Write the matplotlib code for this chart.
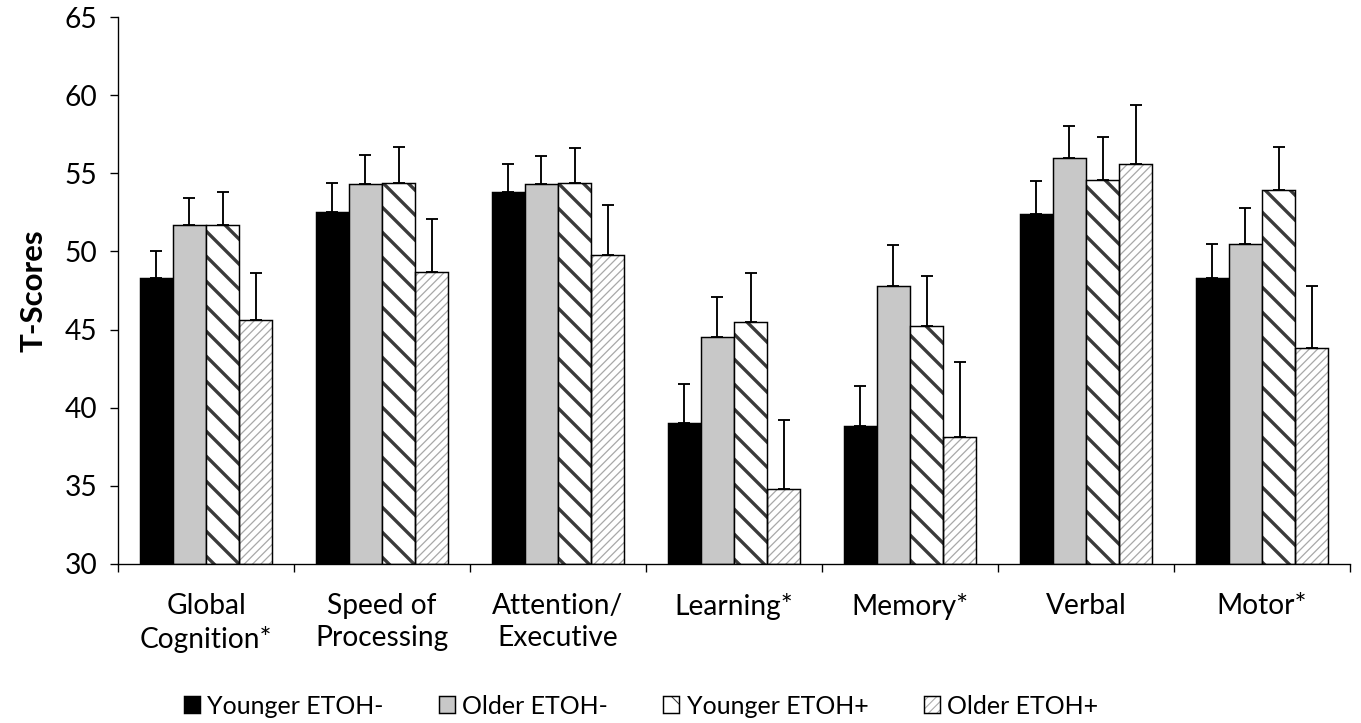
import numpy as np
import matplotlib.pyplot as plt
from matplotlib.patches import Patch

plt.rcParams['font.family'] = ['Lato', 'DejaVu Sans']

categories = ['Global\nCognition*', 'Speed of\nProcessing', 'Attention/\nExecutive',
              'Learning*', 'Memory*', 'Verbal', 'Motor*']
groups = ['Younger ETOH-', 'Older ETOH-', 'Younger ETOH+', 'Older ETOH+']

young_neg = [48.3, 52.5, 53.8, 39.0, 38.8, 52.4, 48.3]
old_neg = [51.7, 54.3, 54.3, 44.5, 47.8, 56.0, 50.5]
young_pos = [51.7, 54.4, 54.4, 45.5, 45.2, 54.6, 53.9]
old_pos = [45.6, 48.7, 49.8, 34.8, 38.1, 55.6, 43.8]

young_neg_err = [1.7, 1.9, 1.8, 2.5, 2.6, 2.1, 2.2]
old_neg_err = [1.7, 1.9, 1.8, 2.6, 2.6, 2.0, 2.3]
young_pos_err = [2.1, 2.3, 2.2, 3.1, 3.2, 2.7, 2.8]
old_pos_err = [3.0, 3.4, 3.2, 4.4, 4.8, 3.8, 4.0]

values = [young_neg, old_neg, young_pos, old_pos]
errors = [young_neg_err, old_neg_err, young_pos_err, old_pos_err]

DPI = 75
fig = plt.figure(figsize=(1361 / DPI, 723 / DPI), dpi=DPI)
ax = fig.add_axes([118 / 1361, 1 - 564 / 723, (1350 - 118) / 1361, (564 - 17) / 723])

x = np.arange(len(categories))
w = 0.188
offsets = [-1.5 * w, -0.5 * w, 0.5 * w, 1.5 * w]

styles = [
    dict(face='black', hatch=None, hcolor=None, hlw=None),
    dict(face='#c8c8c8', hatch=None, hcolor=None, hlw=None),
    dict(face='white', hatch='\\', hcolor='#3a3a3a', hlw=3.2),
    dict(face='white', hatch='///', hcolor='#a8a8a8', hlw=1.2),
]

handles = []
for vals, errs, off, st, name in zip(values, errors, offsets, styles, groups):
    xs = x + off
    heights = np.array(vals) - 30
    if st['hatch']:
        with plt.rc_context({'hatch.linewidth': st['hlw']}):
            hb = ax.bar(xs, heights, w, bottom=30, color=st['face'], edgecolor=st['hcolor'],
                        linewidth=0, hatch=st['hatch'], zorder=2)
            for p in hb:
                if hasattr(p, 'set_hatch_linewidth'):
                    p.set_hatch_linewidth(st['hlw'])
        ax.bar(xs, heights, w, bottom=30, fill=False, edgecolor='black', linewidth=1.4, zorder=3)
        with plt.rc_context({'hatch.linewidth': st['hlw']}):
            h1 = Patch(facecolor='white', edgecolor=st['hcolor'], hatch=st['hatch'], linewidth=0)
            if hasattr(h1, 'set_hatch_linewidth'):
                h1.set_hatch_linewidth(st['hlw'] * 0.7)
        h2 = Patch(fill=False, edgecolor='black', linewidth=1.4)
        handles.append((h1, h2))
    else:
        ax.bar(xs, heights, w, bottom=30, color=st['face'], edgecolor='black',
               linewidth=1.4, zorder=2)
        handles.append(Patch(facecolor=st['face'], edgecolor='black', linewidth=1.4))
    ax.errorbar(xs, vals, yerr=[np.zeros(len(errs)), errs], fmt='none', ecolor='black',
                elinewidth=1.8, capsize=5.5, capthick=1.8, zorder=4)

ax.set_xlim(-0.5, len(categories) - 0.5)
ax.set_ylim(30, 65)
ax.set_yticks(np.arange(30, 66, 5))
ax.set_xticks(np.arange(-0.5, len(categories), 1.0))
ax.set_xticklabels([])
ax.set_xticks(x, minor=True)
ax.set_xticklabels(categories, minor=True, fontsize=27, linespacing=1.3)
ax.tick_params(axis='x', which='minor', length=0, pad=28)
ax.tick_params(axis='x', which='major', direction='out', length=8, width=1.3)
ax.tick_params(axis='y', direction='out', length=8, width=1.3, labelsize=27, pad=12)
for s in ['top', 'right']:
    ax.spines[s].set_visible(False)
for s in ['left', 'bottom']:
    ax.spines[s].set_linewidth(1.3)
ax.set_ylabel('T-Scores', fontsize=30, fontweight='bold', labelpad=16)

fig.legend(handles, groups, loc='center', bbox_to_anchor=(641 / 1361, 1 - 706 / 723), ncol=4,
           frameon=False, fontsize=24, handlelength=0.65, handleheight=0.65,
           handletextpad=0.3, columnspacing=2.2)

fig.savefig('out.png', dpi=DPI)
